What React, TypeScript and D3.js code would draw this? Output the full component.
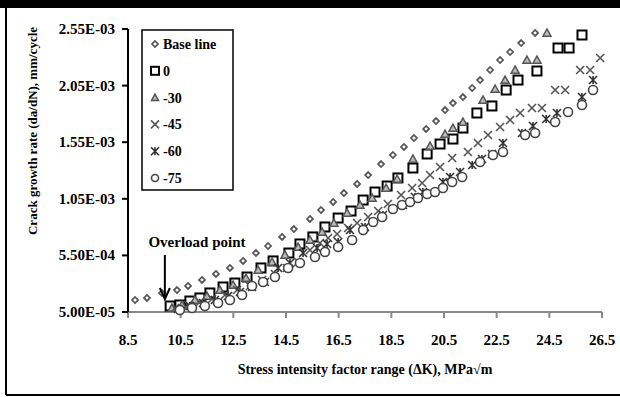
import React from 'react';
import * as d3 from 'd3';

// stress intensity factor range (MPa√m) and crack growth rate (mm/cycle) per series
const baseK = [8.77, 9.22, 9.79, 10.36, 10.78, 11.31, 11.84, 12.37, 12.87, 13.36, 13.82, 14.35, 14.8, 15.41, 15.83, 16.29, 16.7, 17.2, 17.62, 18.11, 18.56, 18.98, 19.36, 19.82, 20.2, 20.54, 20.84, 21.22, 21.57, 21.87, 22.25, 22.63, 23.01, 23.43, 23.96];
const baseRate = [1.56e-4, 1.74e-4, 2.18e-4, 2.44e-4, 2.8e-4, 3.33e-4, 3.86e-4, 4.39e-4, 5.01e-4, 5.71e-4, 6.33e-4, 7.13e-4, 7.83e-4, 8.72e-4, 9.51e-4, 1.022e-3, 1.101e-3, 1.181e-3, 1.26e-3, 1.357e-3, 1.437e-3, 1.508e-3, 1.587e-3, 1.667e-3, 1.737e-3, 1.834e-3, 1.896e-3, 1.949e-3, 2.029e-3, 2.099e-3, 2.188e-3, 2.276e-3, 2.347e-3, 2.426e-3, 2.515e-3];

const k0 = [10.1, 10.47, 10.85, 11.23, 11.61, 12.11, 12.56, 13.02, 13.55, 14.01, 14.61, 15.03, 15.52, 15.98, 16.48, 16.97, 17.43, 17.88, 18.34, 18.75, 19.32, 19.86, 20.35, 20.84, 21.22, 21.75, 22.32, 22.86, 23.31, 24.03, 24.83, 25.25, 25.74];
const rate0 = [1.03e-4, 1.12e-4, 1.47e-4, 1.74e-4, 2.18e-4, 2.71e-4, 3.06e-4, 3.59e-4, 4.39e-4, 5.01e-4, 5.71e-4, 6.51e-4, 7.13e-4, 8.01e-4, 8.8e-4, 9.42e-4, 1.039e-3, 1.11e-3, 1.163e-3, 1.234e-3, 1.322e-3, 1.446e-3, 1.534e-3, 1.578e-3, 1.675e-3, 1.808e-3, 1.87e-3, 2.011e-3, 2.099e-3, 2.179e-3, 2.382e-3, 2.382e-3, 2.497e-3];

const k30 = [10.17, 10.55, 11.04, 11.5, 11.99, 12.49, 12.98, 13.44, 13.97, 14.46, 14.96, 15.41, 15.87, 16.32, 16.82, 17.31, 17.77, 18.3, 18.72, 19.32, 19.97, 20.54, 20.84, 21.22, 21.98, 22.44, 22.82, 23.2, 23.65, 24.03, 24.41];
const rate30 = [0.85e-4, 1.12e-4, 1.56e-4, 1.91e-4, 2.44e-4, 2.89e-4, 3.5e-4, 4.21e-4, 4.92e-4, 5.54e-4, 6.24e-4, 6.86e-4, 7.57e-4, 8.36e-4, 9.25e-4, 9.95e-4, 1.057e-3, 1.145e-3, 1.225e-3, 1.402e-3, 1.516e-3, 1.622e-3, 1.675e-3, 1.728e-3, 1.923e-3, 2.02e-3, 2.099e-3, 2.188e-3, 2.276e-3, 2.276e-3, 2.515e-3];

const k45 = [10.29, 10.78, 11.23, 11.69, 12.18, 12.64, 13.13, 13.59, 14.08, 14.54, 14.96, 15.41, 15.79, 16.1, 16.44, 16.86, 17.2, 17.62, 18.0, 18.37, 18.87, 19.29, 19.67, 19.97, 20.35, 20.81, 21.41, 21.79, 22.17, 22.63, 23.01, 23.39, 23.84, 24.22, 24.72, 25.1, 25.67, 26.05, 26.43];
const rate45 = [0.85e-4, 1.12e-4, 1.38e-4, 1.65e-4, 2.0e-4, 2.44e-4, 2.8e-4, 3.33e-4, 3.86e-4, 4.39e-4, 4.92e-4, 5.98e-4, 6.6e-4, 7.04e-4, 7.39e-4, 7.92e-4, 8.36e-4, 8.89e-4, 9.42e-4, 1.004e-3, 1.084e-3, 1.145e-3, 1.19e-3, 1.26e-3, 1.331e-3, 1.41e-3, 1.463e-3, 1.543e-3, 1.614e-3, 1.684e-3, 1.746e-3, 1.808e-3, 1.852e-3, 1.852e-3, 2.011e-3, 2.011e-3, 2.188e-3, 2.188e-3, 2.294e-3];

const k60 = [10.4, 10.85, 11.35, 11.8, 12.3, 12.75, 13.21, 13.7, 14.2, 14.65, 15.15, 15.68, 16.06, 16.48, 16.93, 17.5, 18.18, 18.94, 19.4, 19.7, 20.46, 20.73, 21.11, 21.57, 21.94, 22.32, 22.74, 23.46, 23.88, 24.38, 24.79, 25.74, 26.16];
const rate60 = [0.77e-4, 1.03e-4, 1.3e-4, 1.56e-4, 1.91e-4, 2.27e-4, 2.71e-4, 3.15e-4, 4.39e-4, 4.83e-4, 5.71e-4, 6.15e-4, 6.51e-4, 6.68e-4, 7.74e-4, 8.01e-4, 9.07e-4, 9.95e-4, 1.066e-3, 1.11e-3, 1.198e-3, 1.243e-3, 1.287e-3, 1.349e-3, 1.402e-3, 1.446e-3, 1.543e-3, 1.631e-3, 1.693e-3, 1.755e-3, 1.808e-3, 1.949e-3, 2.099e-3];

const k75 = [10.47, 10.93, 11.42, 11.92, 12.37, 12.83, 13.21, 13.63, 14.08, 14.58, 15.03, 15.6, 15.98, 16.48, 17.01, 17.43, 17.81, 18.15, 18.56, 18.91, 19.21, 19.51, 19.86, 20.16, 20.46, 20.81, 21.19, 21.87, 22.36, 22.74, 23.58, 23.96, 24.72, 25.21, 25.74, 26.16];
const rate75 = [0.68e-4, 0.85e-4, 1.03e-4, 1.3e-4, 1.56e-4, 2.0e-4, 2.8e-4, 3.15e-4, 3.59e-4, 4.39e-4, 4.83e-4, 5.36e-4, 5.8e-4, 6.24e-4, 6.86e-4, 7.74e-4, 8.45e-4, 8.89e-4, 9.6e-4, 9.95e-4, 1.022e-3, 1.057e-3, 1.092e-3, 1.11e-3, 1.145e-3, 1.198e-3, 1.243e-3, 1.375e-3, 1.437e-3, 1.463e-3, 1.614e-3, 1.631e-3, 1.728e-3, 1.817e-3, 1.879e-3, 2.011e-3];

const seriesNames = ['Base line', '0', '-30', '-45', '-60', '-75'];
const xTicks = [8.5, 10.5, 12.5, 14.5, 16.5, 18.5, 20.5, 22.5, 24.5, 26.5];
const yTicks = [5e-5, 5.5e-4, 1.05e-3, 1.55e-3, 2.05e-3, 2.55e-3];
const yTickLabels = ['5.00E-05', '5.50E-04', '1.05E-03', '1.55E-03', '2.05E-03', '2.55E-03'];

const FONT = '"Liberation Serif", "Times New Roman", serif';

const Marker = ({ kind, x, y, s }) => {
  const h = s / 2;
  if (kind === 0) {
    return <path d={`M${x},${y - h}L${x + h},${y}L${x},${y + h}L${x - h},${y}Z`} fill="white" stroke="#555" strokeWidth={1.7} />;
  }
  if (kind === 1) {
    return <rect x={x - h} y={y - h} width={s} height={s} fill="white" stroke="#000" strokeWidth={2} />;
  }
  if (kind === 2) {
    return <path d={`M${x},${y - h}L${x + h},${y + h * 0.8}L${x - h},${y + h * 0.8}Z`} fill="#bbb" stroke="#555" strokeWidth={1.5} />;
  }
  if (kind === 3) {
    return <path d={`M${x - h},${y - h}L${x + h},${y + h}M${x + h},${y - h}L${x - h},${y + h}`} stroke="#555" strokeWidth={1.6} />;
  }
  if (kind === 4) {
    return <path d={`M${x - h},${y - h}L${x + h},${y + h}M${x + h},${y - h}L${x - h},${y + h}M${x},${y - h}L${x},${y + h}`} stroke="#333" strokeWidth={1.6} />;
  }
  return <circle cx={x} cy={y} r={h} fill="white" stroke="#444" strokeWidth={1.6} />;
};

const App = () => {
  const width = 620;
  const height = 397;
  const plot = { left: 128, right: 602, top: 29, bottom: 312 };

  const x = d3.scaleLinear().domain([8.5, 26.5]).range([plot.left, plot.right]);
  const y = d3.scaleLinear().domain([5e-5, 2.55e-3]).range([plot.bottom, plot.top]);

  const series = [
    { k: baseK, r: baseRate, size: 6 },
    { k: k0, r: rate0, size: 9 },
    { k: k30, r: rate30, size: 8 },
    { k: k45, r: rate45, size: 8 },
    { k: k60, r: rate60, size: 8 },
    { k: k75, r: rate75, size: 9 },
  ];
  const legendSizes = [6, 8, 7, 8, 8, 7];

  const arrowX = x(9.9);

  return (
    <svg width={width} height={height} style={{ position: 'absolute', left: 0, top: 0, background: 'white' }} fontFamily={FONT}>
      <rect x={0} y={0} width={width} height={8} fill="#000" />
      <line x1={6} y1={8} x2={6} y2={395} stroke="#000" strokeWidth={2} />
      <line x1={6} y1={395} x2={width} y2={395} stroke="#000" strokeWidth={2} />

      {/* x axis */}
      <line x1={plot.left} y1={plot.bottom} x2={plot.right} y2={plot.bottom} stroke="#888" strokeWidth={2} />
      {xTicks.map((t) => (
        <g key={t}>
          <line x1={x(t)} y1={plot.bottom} x2={x(t)} y2={plot.bottom + 6} stroke="#888" strokeWidth={2} />
          <text x={x(t)} y={plot.bottom + 33} textAnchor="middle" fontSize={15} fontWeight="bold">{t}</text>
        </g>
      ))}

      {/* y axis */}
      <line x1={plot.left} y1={plot.top} x2={plot.left} y2={plot.bottom} stroke="#000" strokeWidth={2} />
      {yTicks.map((t, i) => (
        <g key={t}>
          <line x1={plot.left - 6} y1={y(t)} x2={plot.left} y2={y(t)} stroke="#000" strokeWidth={2} />
          <text x={115} y={y(t) + 5} textAnchor="end" fontSize={15} fontWeight="bold">{yTickLabels[i]}</text>
        </g>
      ))}

      {series.map((s, si) => (
        <g key={si}>
          {s.k.map((kv, i) => (
            <Marker key={i} kind={si} x={x(kv)} y={y(s.r[i])} s={s.size} />
          ))}
        </g>
      ))}

      {/* legend */}
      <rect x={142} y={30} width={91} height={160} fill="white" stroke="#000" strokeWidth={1.5} />
      {seriesNames.map((n, i) => (
        <g key={n}>
          <Marker kind={i} x={155} y={44 + i * 26.8} s={legendSizes[i]} />
          <text x={163} y={44 + i * 26.8 + 5} fontSize={14} fontWeight="bold">{n}</text>
        </g>
      ))}

      {/* overload annotation */}
      <text x={197} y={247} textAnchor="middle" fontSize={15} fontWeight="bold">Overload point</text>
      <line x1={arrowX} y1={255} x2={arrowX} y2={298} stroke="#000" strokeWidth={2} />
      <path d={`M${arrowX - 5},${288}L${arrowX},${299}L${arrowX + 5},${288}`} fill="none" stroke="#000" strokeWidth={2} />

      {/* axis titles */}
      <text x={365} y={374} textAnchor="middle" fontSize={14} fontWeight="bold">Stress intensity factor range (ΔK), MPa√m</text>
      <text transform={`translate(37,131) rotate(-90)`} textAnchor="middle" fontSize={13} fontWeight="bold">Crack growth rate (da/dN), mm/cycle</text>
    </svg>
  );
};

export default App;
